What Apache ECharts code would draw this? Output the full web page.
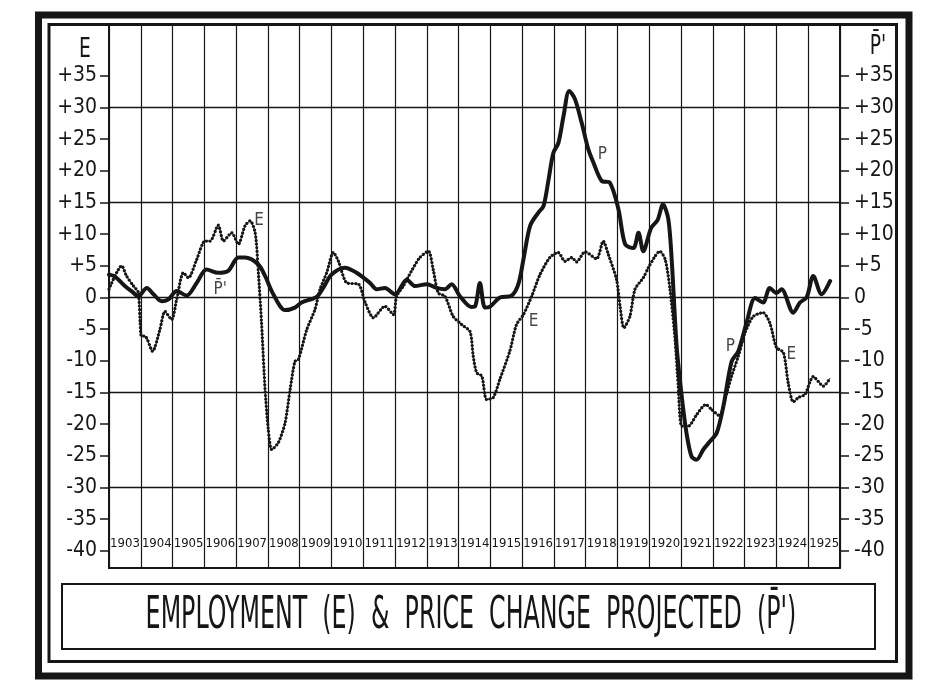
<!DOCTYPE html>
<html><head><meta charset="utf-8">
<script src="https://cdn.jsdelivr.net/npm/echarts@6/dist/echarts.min.js"></script>
<style>html,body{margin:0;padding:0;background:#fff}#c{width:939px;height:697px}</style>
</head><body><div id="c"></div>
<script>
const FONT = '"DejaVu Sans Condensed","Liberation Sans Narrow",sans-serif';

// Employment (E)
const eYears = [1903.00,1903.40,1903.55,1903.77,1903.92,1903.98,1904.02,1904.13,1904.37,1904.60,1904.76,1904.97,1905.13,1905.34,1905.50,1905.76,1906.02,1906.18,1906.44,1906.60,1906.86,1907.07,1907.28,1907.44,1907.60,1907.70,1907.80,1907.91,1908.01,1908.12,1908.33,1908.54,1908.70,1908.85,1908.96,1909.22,1909.48,1909.64,1909.85,1910.06,1910.22,1910.48,1910.85,1911.06,1911.32,1911.68,1911.95,1912.05,1912.26,1912.52,1912.78,1913.05,1913.20,1913.36,1913.57,1913.83,1914.10,1914.36,1914.46,1914.57,1914.73,1914.88,1915.09,1915.30,1915.61,1915.82,1916.04,1916.30,1916.56,1916.87,1917.13,1917.35,1917.56,1917.71,1917.98,1918.34,1918.55,1918.71,1918.97,1919.08,1919.20,1919.39,1919.55,1919.81,1919.97,1920.18,1920.33,1920.50,1920.65,1920.81,1920.91,1921.02,1921.23,1921.49,1921.78,1921.96,1922.22,1922.38,1922.59,1922.80,1923.01,1923.27,1923.58,1923.79,1924.00,1924.22,1924.37,1924.53,1924.69,1924.90,1925.16,1925.48,1925.69];
const eValues = [1.3,5.0,3.4,1.8,0.8,-4.0,-6.1,-6.1,-8.5,-5.1,-2.2,-3.5,-0.3,3.9,3.1,6.0,8.9,8.9,11.4,8.9,10.2,8.4,11.3,12.1,10.2,3.9,-4.0,-14.5,-20.8,-24.0,-22.9,-19.8,-14.5,-10.1,-9.8,-5.1,-1.9,1.3,3.9,7.1,5.7,2.3,2.1,-0.8,-3.2,-1.4,-2.7,0.2,1.8,4.2,6.3,7.3,4.4,0.7,0.2,-3.0,-4.3,-5.4,-9.3,-11.9,-12.4,-16.1,-15.8,-12.9,-8.5,-4.3,-2.7,0.2,3.6,6.3,7.1,5.7,6.3,5.6,7.2,6.1,8.9,6.8,2.8,-1.4,-4.8,-3.0,1.3,3.1,4.7,6.5,7.3,6.0,1.3,-6.6,-14.0,-20.3,-20.3,-18.5,-16.9,-17.7,-18.7,-16.1,-12.4,-9.3,-5.6,-3.0,-2.4,-4.0,-7.9,-8.7,-13.5,-16.5,-15.8,-15.3,-12.5,-14.0,-12.7];

// Price change projected (P')
const pYears = [1903.00,1903.19,1903.50,1903.71,1903.92,1904.19,1904.40,1904.66,1904.87,1905.13,1905.44,1905.76,1906.07,1906.44,1906.75,1907.07,1907.28,1907.70,1907.91,1908.17,1908.54,1908.85,1909.06,1909.53,1909.74,1910.00,1910.42,1910.79,1911.21,1911.42,1911.68,1912.00,1912.37,1912.63,1913.00,1913.31,1913.57,1913.78,1914.04,1914.40,1914.52,1914.67,1914.83,1915.00,1915.30,1915.67,1915.88,1916.04,1916.25,1916.51,1916.67,1916.83,1916.98,1917.14,1917.30,1917.48,1917.66,1917.87,1918.08,1918.24,1918.50,1918.76,1919.03,1919.24,1919.50,1919.66,1919.81,1920.06,1920.26,1920.43,1920.60,1920.71,1920.86,1921.02,1921.17,1921.33,1921.49,1921.70,1921.91,1922.12,1922.33,1922.59,1922.80,1923.06,1923.33,1923.58,1923.79,1924.00,1924.16,1924.53,1924.74,1924.95,1925.16,1925.42,1925.69];
const pValues = [3.6,3.3,1.8,1.0,0.2,1.5,0.5,-0.6,-0.3,1.0,0.3,2.3,4.4,3.9,4.2,6.3,6.3,5.2,3.4,0.5,-2.0,-1.6,-0.8,0.1,1.5,3.6,4.7,3.9,2.3,1.3,1.5,0.5,2.8,1.8,2.1,1.5,1.3,2.1,0.2,-1.5,-1.4,2.3,-1.6,-1.4,0.0,0.3,2.1,6.0,11.3,13.4,14.4,18.6,22.8,24.4,28.6,32.6,31.3,27.6,23.4,21.3,18.4,18.1,13.9,8.4,7.8,10.2,7.3,11.0,12.2,14.7,12.3,5.5,-7.7,-15.6,-21.4,-25.1,-25.6,-24.0,-22.7,-21.4,-17.2,-10.1,-8.5,-4.0,-0.1,-0.8,1.5,0.7,1.3,-2.4,-0.8,0.0,3.4,0.5,2.6];

const yearLabels = ['1903','1904','1905','1906','1907','1908','1909','1910','1911','1912','1913','1914','1915','1916','1917','1918','1919','1920','1921','1922','1923','1924','1925'];
const yTickValues = [-40,-35,-30,-25,-20,-15,-10,-5,0,5,10,15,20,25,30,35];
const gridValues = [-30,-15,0,15,30];

// in-chart curve labels: [year, value, text]
const annYears = [1907.72, 1906.50, 1918.52, 1916.36, 1922.55, 1924.47];
const annValues = [12.2, 1.3, 22.6, -3.8, -7.7, -9.0];
const annTexts = ['E', 'P\u0304\'', 'P', 'E', 'P', 'E'];

const INK = '#161616';
const chart = echarts.init(document.getElementById('c'), null, {renderer: 'canvas'});
const fmtY = v => v > 0 ? '+' + v : (v < 0 ? '-' + (-v) : '0');

const ePts = eYears.map((x, i) => [x, eValues[i]]);
const pPts = pYears.map((x, i) => [x, pValues[i]]);
const annPts = annYears.map((x, i) => [x, annValues[i]]);

const yBase = {
  type: 'value', min: -42.7, max: 43.0,
  splitLine: {show: false},
  axisLine: {show: true, lineStyle: {color: INK, width: 2}},
  axisTick: {show: true, length: 9, customValues: yTickValues, lineStyle: {color: INK, width: 1.5}},
  axisLabel: {customValues: yTickValues, formatter: fmtY, color: INK, fontFamily: FONT, fontSize: 21, margin: 12}
};

chart.setOption({
  backgroundColor: '#fff',
  animation: false,
  grid: {left: 109, right: 99, top: 25, bottom: 129},
  xAxis: {
    type: 'value', min: 1903, max: 1926, interval: 1,
    axisLine: {show: true, onZero: false, lineStyle: {color: INK, width: 2}},
    axisTick: {show: false},
    splitLine: {show: true, lineStyle: {color: INK, width: 1.2}},
    axisLabel: {
      inside: true, margin: 18, color: INK, fontFamily: FONT, fontSize: 13,
      showMinLabel: true, showMaxLabel: true, hideOverlap: false,
      padding: [0, 0, 0, 32],
      formatter: v => { const i = Math.round(v) - 1903; return yearLabels[i] || ''; }
    }
  },
  yAxis: [
    Object.assign({}, yBase, {position: 'left'}),
    Object.assign({}, yBase, {position: 'right', axisLabel: Object.assign({}, yBase.axisLabel, {margin: 14})})
  ],
  series: [
    {
      type: 'line', data: ePts, showSymbol: false, smooth: 0.25,
      lineStyle: {color: INK, width: 1},
      markLine: {
        silent: true, symbol: 'none', label: {show: false},
        lineStyle: {color: INK, width: 1.3, type: 'solid'},
        data: gridValues.map(v => ({yAxis: v}))
      }
    },
    {
      type: 'line', data: ePts, showSymbol: false, smooth: 0.25,
      lineStyle: {color: INK, width: 3.2, type: [0.01, 3.6], cap: 'round'}
    },
    {
      type: 'line', data: pPts, showSymbol: false, smooth: 0.3,
      lineStyle: {color: INK, width: 4, cap: 'round', join: 'round'}
    },
    {
      type: 'scatter', data: annPts, symbolSize: 0,
      label: {show: true, position: 'inside', color: INK, fontFamily: FONT, fontSize: 17,
        formatter: p => annTexts[p.dataIndex]}
    }
  ],
  graphic: [
    {type: 'rect', shape: {x: 38.5, y: 15, width: 870.5, height: 661}, style: {fill: 'none', stroke: INK, lineWidth: 7}},
    {type: 'rect', shape: {x: 49, y: 24.5, width: 847.5, height: 637}, style: {fill: 'none', stroke: INK, lineWidth: 3}},
    {type: 'rect', shape: {x: 62, y: 584, width: 813, height: 65}, style: {fill: 'none', stroke: INK, lineWidth: 2}},
    {type: 'text', x: 471, y: 617, scaleX: 0.6, style: {text: 'EMPLOYMENT  (E)  &  PRICE  CHANGE  PROJECTED  (P\u0304\')', fill: INK, font: '44px ' + FONT, align: 'center', verticalAlign: 'middle'}},
    {type: 'text', x: 85, y: 50, scaleX: 0.8, style: {text: 'E', fill: INK, font: '26px ' + FONT, align: 'center', verticalAlign: 'middle'}},
    {type: 'text', x: 878, y: 47, scaleX: 0.8, style: {text: 'P\u0304\'', fill: INK, font: '26px ' + FONT, align: 'center', verticalAlign: 'middle'}}
  ]
});
</script></body></html>
